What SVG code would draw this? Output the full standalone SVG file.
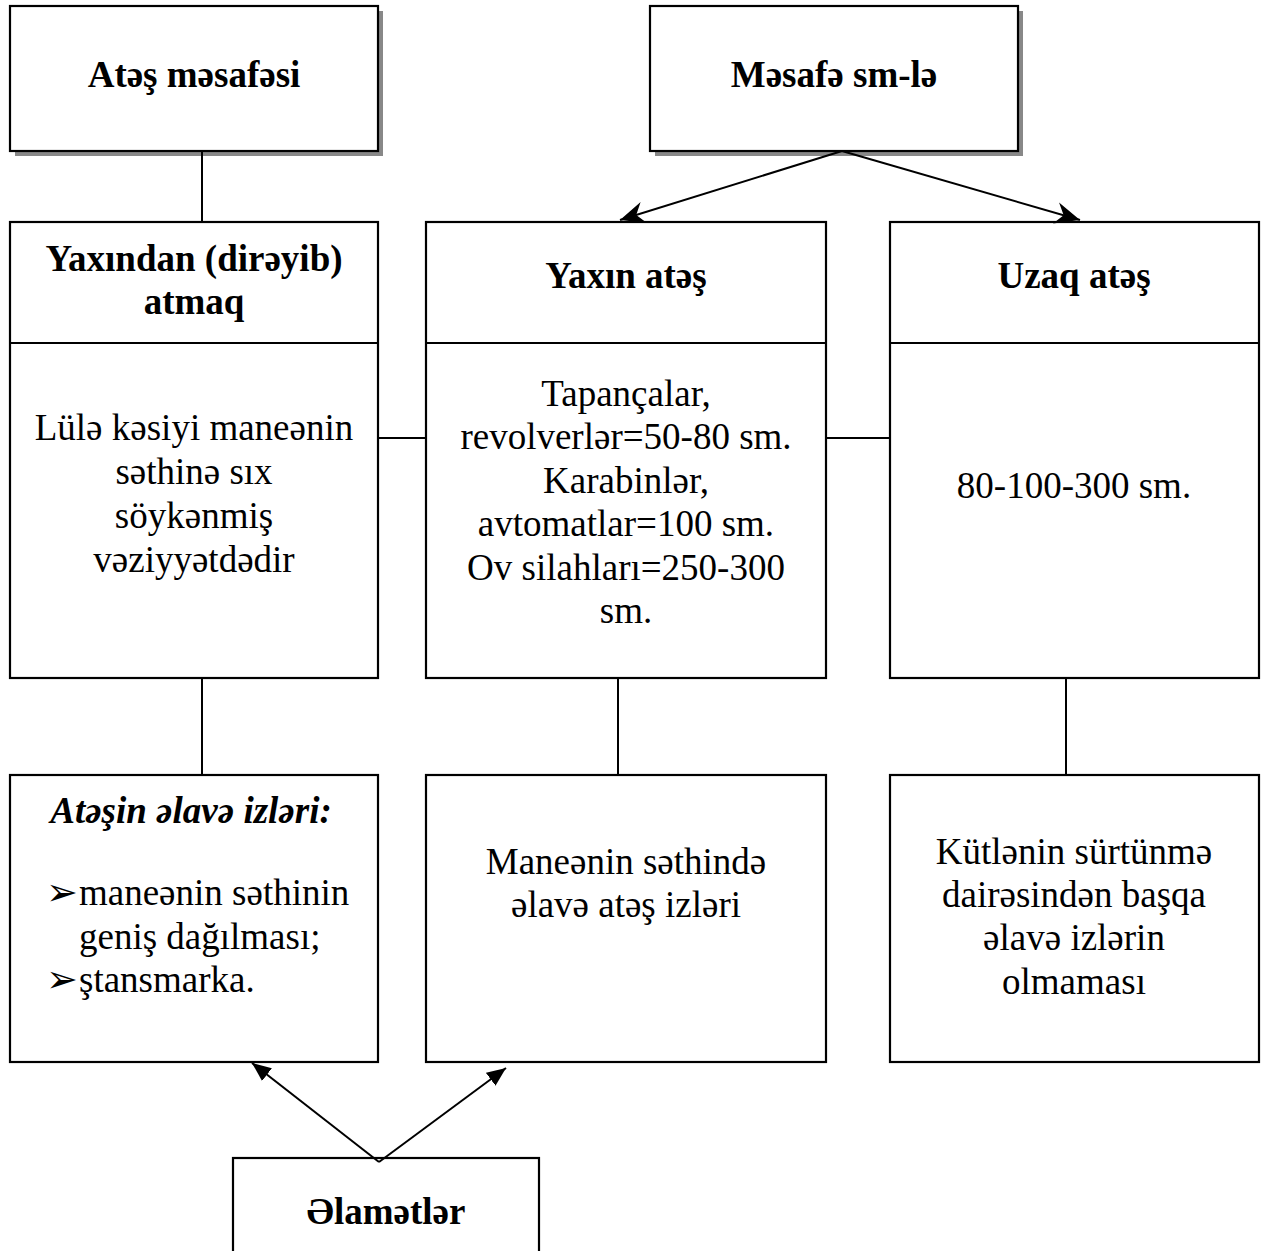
<svg xmlns="http://www.w3.org/2000/svg" width="1267" height="1251" viewBox="0 0 1267 1251">
<defs>
<style>
.box{fill:#fff;stroke:#000;stroke-width:2.2}
.shadow{fill:#888}
.ln{stroke:#000;stroke-width:2;fill:none}
text{font-family:"Liberation Serif","DejaVu Serif","Times New Roman",serif;font-size:37px;fill:#000;text-anchor:middle}
.b{font-weight:bold}
.bi{font-weight:bold;font-style:italic}
.bul{font-family:"DejaVu Sans",sans-serif;font-size:38px;text-anchor:start}
.st{text-anchor:start}
</style>
<marker id="barb" markerWidth="28" markerHeight="24" refX="25" refY="12" orient="auto" markerUnits="userSpaceOnUse">
<path d="M25,12 L0,1 L8,12 L0,23 Z" fill="#000"/>
</marker>
<marker id="tri" markerWidth="20" markerHeight="16" refX="19" refY="8" orient="auto" markerUnits="userSpaceOnUse">
<path d="M19,8 L0,0 L0,16 Z" fill="#000"/>
</marker>
</defs>
<rect width="1267" height="1251" fill="#fff"/>

<g id="node-atesh-mesafesi">
<rect class="shadow" x="15" y="11" width="368" height="145"/>
<rect class="box" x="10" y="6" width="368" height="145"/>
<text class="b" x="194" y="87">Atəş məsafəsi</text>
</g>

<g id="node-mesafe-sm">
<rect class="shadow" x="655" y="11" width="368" height="145"/>
<rect class="box" x="650" y="6" width="368" height="145"/>
<text class="b" x="834" y="87">Məsafə sm-lə</text>
</g>

<g id="node-yaxindan">
<rect class="box" x="10" y="222" width="368" height="456"/>
<line class="ln" x1="10" y1="343" x2="378" y2="343"/>
<text class="b" x="194" y="271">Yaxından (dirəyib)</text>
<text class="b" x="194" y="314">atmaq</text>
<text x="194" y="440">Lülə kəsiyi maneənin</text>
<text x="194" y="484">səthinə sıx</text>
<text x="194" y="528">söykənmiş</text>
<text x="194" y="572">vəziyyətdədir</text>
</g>

<g id="node-yaxin">
<rect class="box" x="426" y="222" width="400" height="456"/>
<line class="ln" x1="426" y1="343" x2="826" y2="343"/>
<text class="b" x="626" y="288">Yaxın atəş</text>
<text x="626" y="406">Tapançalar,</text>
<text x="626" y="449">revolverlər=50-80 sm.</text>
<text x="626" y="493">Karabinlər,</text>
<text x="626" y="536">avtomatlar=100 sm.</text>
<text x="626" y="580">Ov silahları=250-300</text>
<text x="626" y="623">sm.</text>
</g>

<g id="node-uzaq">
<rect class="box" x="890" y="222" width="369" height="456"/>
<line class="ln" x1="890" y1="343" x2="1259" y2="343"/>
<text class="b" x="1074" y="288">Uzaq atəş</text>
<text x="1074" y="498">80-100-300 sm.</text>
</g>

<g id="node-elave-izler">
<rect class="box" x="10" y="775" width="368" height="287"/>
<text class="bi" x="191" y="823">Atəşin əlavə izləri:</text>
<text class="bul" x="46" y="905">➢</text>
<text class="st" x="79" y="905">maneənin səthinin</text>
<text class="st" x="79" y="949">geniş dağılması;</text>
<text class="bul" x="46" y="992">➢</text>
<text class="st" x="79" y="992">ştansmarka.</text>
</g>

<g id="node-maneenin">
<rect class="box" x="426" y="775" width="400" height="287"/>
<text x="626" y="874">Maneənin səthində</text>
<text x="626" y="917">əlavə atəş izləri</text>
</g>

<g id="node-kutlenin">
<rect class="box" x="890" y="775" width="369" height="287"/>
<text x="1074" y="864">Kütlənin sürtünmə</text>
<text x="1074" y="907">dairəsindən başqa</text>
<text x="1074" y="950">əlavə izlərin</text>
<text x="1074" y="994">olmaması</text>
</g>

<g id="node-elametler">
<rect class="box" x="233" y="1158" width="306" height="110"/>
<text class="b" x="386" y="1224">Əlamətlər</text>
</g>

<g id="connectors">
<line class="ln" x1="202" y1="151" x2="202" y2="222"/>
<line class="ln" x1="842" y1="151" x2="620" y2="220" marker-end="url(#barb)"/>
<line class="ln" x1="842" y1="151" x2="1080" y2="220" marker-end="url(#barb)"/>
<line class="ln" x1="378" y1="438" x2="426" y2="438"/>
<line class="ln" x1="826" y1="438" x2="890" y2="438"/>
<line class="ln" x1="202" y1="678" x2="202" y2="775"/>
<line class="ln" x1="618" y1="678" x2="618" y2="775"/>
<line class="ln" x1="1066" y1="678" x2="1066" y2="775"/>
<line class="ln" x1="379" y1="1162" x2="252" y2="1063" marker-end="url(#tri)"/>
<line class="ln" x1="379" y1="1162" x2="506" y2="1068" marker-end="url(#tri)"/>
</g>
</svg>
